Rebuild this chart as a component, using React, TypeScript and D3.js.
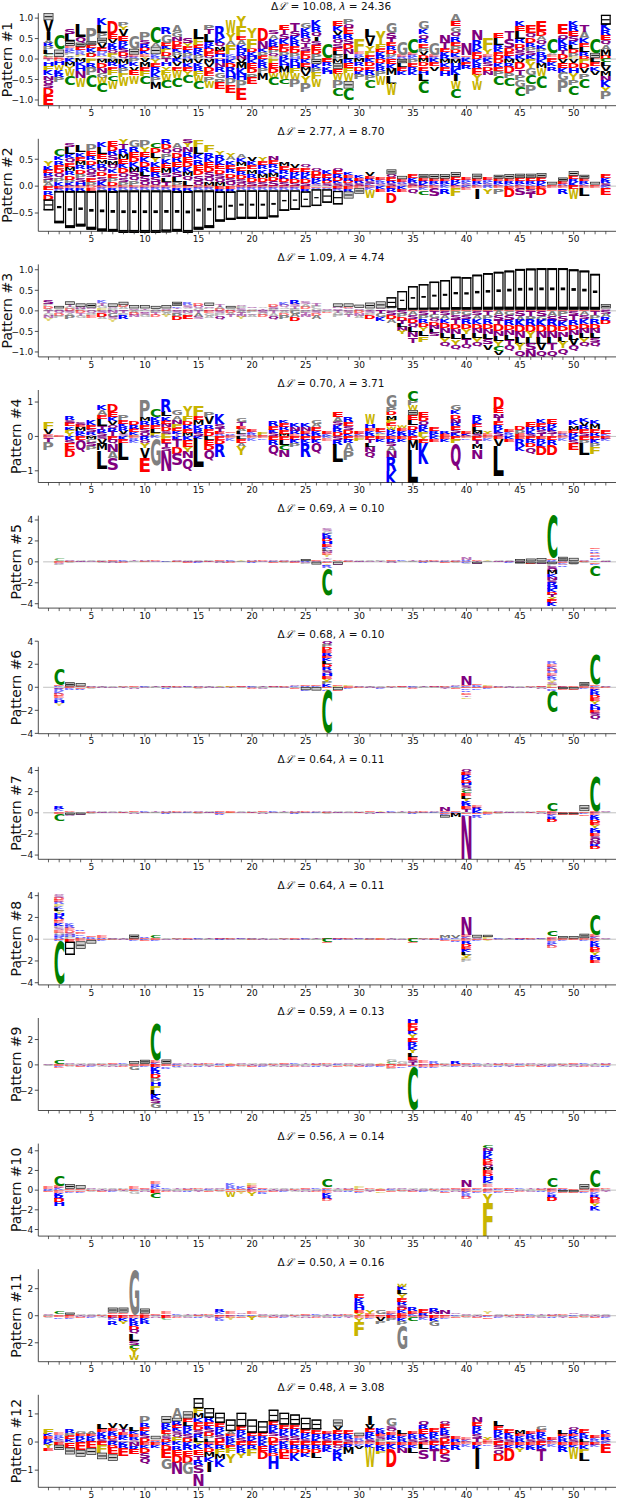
import React from "react";
import { scaleLinear, range } from "d3";

// positions along the sequence (1..53)
const positions = range(1, 54);

const deltaL = ["10.08", "2.77", "1.09", "0.70", "0.69", "0.68", "0.64", "0.64", "0.59", "0.56", "0.50", "0.48"];
const lambdas = ["24.36", "8.70", "4.74", "3.71", "0.10", "0.10", "0.11", "0.11", "0.13", "0.14", "0.16", "3.08"];

const yDomains: [number, number][] = [
  [-1.14, 1.12], [-0.84, 0.88], [-1.12, 1.13], [-1.34, 1.35],
  [-4.42, 4.42], [-4.03, 4.0], [-4.4, 4.35], [-4.2, 4.3],
  [-3.6, 3.7], [-4.67, 4.73], [-3.4, 3.44], [-1.61, 1.68],
];
const yTicks: number[][] = [
  [-1, -0.5, 0, 0.5, 1], [-0.5, 0, 0.5], [-1, -0.5, 0, 0.5, 1], [-1, 0, 1],
  [-4, -2, 0, 2, 4], [-4, -2, 0, 2, 4], [-4, -2, 0, 2, 4], [-4, -2, 0, 2, 4],
  [-2, 0, 2], [-4, -2, 0, 2, 4], [-2, 0, 2], [-1, 0, 1],
];
const decimalTicks = [true, true, true, false, false, false, false, false, false, false, false, false];
const xTickLabels = [5, 10, 15, 20, 25, 30, 35, 40, 45, 50];

// each column: "top stack (listed top -> zero) | bottom stack (listed zero -> down)"
// letter + height in hundredths of a y unit, "-" is the gap symbol
const pattern1 = [
  "-17V28I20A7R9P9L10C6E6|T6H10F12K12N10Q12S10D16E24", "C36-18E5|D6H8W12K10R8P12", "S12L16-12E6R6K6P5V4A5|K8M8Y10W16C22",
  "L30Q14-10E8K6R6F6H4|M8K10H12N16W22", "P33-10E8K8V6D8F4|F10R12P18C28", "K16L20P12-12V12E8H6R6F4S4|M10D12N12G12W14C22",
  "D30E12V10K10R8Q8F8A6|M10R8E10F12C14W18", "P10Y8V16E12R10K10S8D8Q8|M12K10P12F10W22", "G32-14E5R6|P8K10V10E12W20",
  "P20S10R8D8K8E6Y6|V8M12E10F12C20", "C38A8-18K6R6|Y10E10R12K12P12M16", "R16G20E8K8F8D8P8|T8H10Y10F12W14C18",
  "A17G13N10D10E10K8P8V8|K8V10E10W18C22", "S12Y10E8K8P8R6|M10K10E10Y10C18", "L24F14E8R8K8P10|V10K10R10F12W14C18",
  "P12T12L18R10K8D8E8Q8|M10V10D12E10P14W14", "R28K12Q10M10E8H8D4|H10N10R12G14P14E14", "W31Y20A10F21K6H6|K10D12R14H12P16E18",
  "Y24F24E10A12K10H9R8N8|V10M14K14H14P20E28", "Y25F26D9K8H8|K10E12D12P14E14", "D32N20K8P8E8|K10R12P12M16",
  "S10A10K10R10E8P8Q8F6|F10E12D12W12C18", "E12T12S12K12E10D10P8R8|K10H10M14W14C14", "T20S12K12R12E10D8P8H6|R10H12F12W16P18",
  "G14K12R12Q12T10S10E10D10|K10E10M10V12Y16P22", "K16R12Q12I10S10E12D10P12|-12K10P12F14W20", "C35F3|E8R10K10H8",
  "E12K12V10R10Q12S8E8L10P10|M10-14E12W16P18C20", "P14Q12E14R12S12D12N12L12|R10E12F12W20-18C28", "F33E6R6K6|M8R10D10K10P12",
  "L18V22Y12F10E10|K8D10E10R12P12C18", "Y30F12E9K8R8|D10K10R10P12W22", "G25S12T10E10R10D8P8K5|E12K12M16L20W27",
  "G33E5R5|-10L10E8K10", "C36E5R5K5|P10E10R10K10", "G20K12Q12R10E10P10V8D10|M8D10E10H10L16C30",
  "G29E5R5|K8E10V10", "N20T15E8K8R8|M10K10E10H12", "A16E12G14Q12R12E10P10D8K8S6|M12H14K14I14W18C23",
  "N29E4R3K3|K8E8R8", "N25R20K10E9D8|K12R12E16Y14W21", "F28Y11E6R6|K8S10D10N10",
  "E12L16R10K9E8D8|D10K10E10P12C22", "T18S22D10E8K8|M10R10D14P12C20", "K12E12L18R12D10Q10S8K10|V10D14T14P14G16C22",
  "E20Q12D12R10P10S10K10|F10Y14G16C22P23", "E24D12A10Q12K10P8R8H8|K10M12W20C28", "C36A6E5R4|E8K10R10",
  "E24Q12K14R12T10D12|V10E12K12G18P28", "K12R12E12S12K10L10D10P8F6|V10D12H12Y16P14C24", "T17A16K12E10L12R10D7|F10D12V12P14C24",
  "C36-12E3|L8E10K10V10", "-24K14R12E12Q12A12M14D8|C8L10V12M12N12K14Y12P18",
];

const pattern2 = [
  "Y10K7E6R6S6P6A6|E8R8D9-20", "C13K8R8E8D8Q8P8K8|E5R4-60", "S6L12K8Q8E8M8R8D8P6K6|E4R5-69",
  "L12K8E8M8R8D8P8S8H7|E4R5-66", "P12E10R8D8K8Q8S8E8P8|D4E5-72", "K9L12E10M8R8Q8D8S8K10|E4R4-76",
  "E9D9R9S9M8Q8K8E8P8D8|E4R5-76", "Y10T9R9M9E9K9D9Q8S8P8|E4R4-79", "G12R9E9D9K9M9S9Q9P9|E4R4-79",
  "P12Y9E9K9D9R9L9S9Q9|E4R4-79", "C10D9L9Y9K9E9R9S9Q8|E4R4-79", "R10D9Q9P9K9E9M9S8L8T8|E4R4-78",
  "A10Q9D9R9E9K9S9L9P8|E4R5-76", "S7Y9N9R9E9D9K9M9Q9L9|E4R5-78", "F12L12K10R10E10D10S10Q10|E4R4-73",
  "F12R10K9E9D9S9Q9M8|E4R4-70", "Y8R9K9E9D8S8Q8M7|E5R5-56", "Y8A6K8E8R8D8S8Q8|E5R5-53",
  "A6K8M8E8R8D8S8Q5|E4R4-53", "V6K8E8M8R8D8S7|E4R4-53", "Y6E8R8K8M8D8S7|E4R4-53",
  "N7E8R8K8M8D8S9|E4R4-50", "M7E7R8K8D7S7|E4R4-38", "V6E7R7K7D7S6|E4R4-36",
  "Q6E7R7K7D7S6|E5R5-29", "Q5D6E6R6K5S4|E3R3-31", "K6E6R6D5S5|E3R3-25",
  "Q6E6R6D6K5S5|E5R4-25", "K5E5R5D5S5|E5R5-13", "K5E5R5S5|E4-10",
  "V6E5R5S5K4|E4K4W14", "E5K4R4S4|K5E5", "-9Q6E6R5S5|E5R6D20",
  "-6E5R4S4|K5E5", "E6K5R5S5|E4Q10", "-7E5R5K5|E4K4C8",
  "-8E5R5K4|E4S14", "-8E5R5K4|K4R10", "-9E6R6K5|E4F14",
  "E5R4K4S4|K4E4", "-9E5R5K4|E4I20", "E5R4K4S4|R4Y10",
  "-7E5R5K4|E4P10", "-8E5R5K4|E5D16", "-8E6R5K4|E4S12",
  "-8E6R5K4|E5S8T10", "-8E6R5K5|E5D12", "-5E3|E4",
  "-7E5R4|E4R10", "-9E6R5K8|E6W18", "-7E5R5K4|E4L14",
  "-5E3|E4", "E6K5R5S5|K4E12",
];

const pattern3 = [
  "S8P6D6A5|T6G6N6Y6", "-6A3S3|Q6D6P6", "-8T5G5D5|S6A6P8", "-8N5P5|D6T6G6", "-10S4A4|Q6P6E6",
  "K6T6G6F6|S6D8A6", "-8Q5P5|N6G8S6Y6", "-8D5A5S4|T6P6R8", "-8S3G3|A5D5N5", "-8T3P3|Q5S5G5",
  "-7A3N2|P5T5D5", "-8S3D3|G5A5Y5", "-10K4T4Q4|S6P8D8", "R6S6A4P4|N6G6E8", "D6Q6G6|T6A8S6",
  "-8S4P4N4|E6G6A6", "T5A5D5|S6P6Q8", "-6G3S3|D5A5T5", "Q5P5S5|A5T5N5Y6", "S4G3D3|P5Q5A5",
  "A4T3N3|S5G5D5", "D5S5P5|T6A6Q8", "K6Q6G4S4|A6D6P8", "R8S6T6P5|G8A8D9", "S6A6D6Q4|P5T5N5",
  "T6P6G6|S6D6A8", "S3A2|P3D2", "-8N4S3A3|T5G5P5", "-8D4Q3P3|S5A5T5", "-8S4G3|D6N6A6",
  "-14A3T3|S6P6D8", "-17Q3S3|T8G8K9", "-25P4N4|S10D10A10", "-45E3|S8P8D8T8L8N8Y9", "-57E3|A10S10D10Q10L12N12T14",
  "-62E3|S10P10R10D10Y10L12F13", "-68E3|T9G9Q9D9N9L9S8", "-72E3|S10A10K10D12N12L11Y12Q10", "-80E3|P10S10T12D12N12L13Y13Q13", "-79E3|G10S10R12D12Y12L12T12Q12",
  "-85E3|S10A10K12D12N11L11Y11Q11", "-89E3|T10P10R12D12N12L13S13V13", "-92E3|A11S12T12D14N12L12Y12C12V10", "-95E3|G10S12R12D12N12L12T14Q14", "-99E3|S12A12K14D14N14L14Y16Q16",
  "-100E3|T12P12R14D14Y14L14S16N16", "-101E3|S12G12K14D14N14L14V16Q16", "-101E3|A12S12R14D14N14L14T16Q16", "-101E3|P12S12K13D13N13L13Y14Q17", "-98E3|S10T12R12D12N12L12V14Q14",
  "-95E3|A10S10K12D12N11L11Y11Q11", "-87E3|T10P10R12D12N11L11S11Q11", "-10S3A3|S8A8R8D8",
];

const pattern4 = [
  "F20V14E4K4|E6T10P24", "E4|E3", "R11S9E9K9F10Y10|K10S12E18D20", "S8E8M10R8K8|E10Q36", "K14E10S10R8T5|M8G10S10P12",
  "K14A14E10L22T10R10S10|S8V14M18L54", "D24E14K12V12Q10R10T13|E10Q12N22A20S35", "P14E10K10R10V10S7|K10E10L50", "D10R10E10K8F4|E6R6K6", "P48M12R11E12S10Q12|R10Q10Y14V30E40",
  "C25K12R12E10L12F10|K6G78", "R38L14K12E10N10D10S8F8|F10E10T12S12N56", "G15A12N12F12E10K8T7|K10T22D18S34", "Y30F14D12K12E12M10|K10E20Y14N20Q36", "F30E12M14K12R12S10|K8L82",
  "P14V22R12E12D11|L10E14D16Q30", "K30S12T10E8R6|E10D12R38", "E5R5K4|E6K6", "G10T10E8A8L8S7|L8E10A12Y25", "E8K6R6|E6K6",
  "F8E5|E6K4", "R14E10K10S10|E10R14Q31", "K8E10R10E10M8|E10L14C16N20", "K12N10R10E6|E10K10P12", "K10N10E8R8|E10K10R40",
  "G10A10E10K8R8|E10K10Q30", "E8K6|K6E6", "E15A14S10K10R10D12|S10R14L51", "R14E12S12D10K8|E10R10A22P28", "E8K6|E6F8",
  "W30H12E8K8R8|E10T10L10N14Q20", "E10K6F6|E8K8", "G34P14D10M12F10E10W10R10K9|E8R10S10A14N20R40K32", "W8E8K8R8|E8K8", "C30P14W14-14E14L16D12R10K10|E10M30L94",
  "E15D12Q12R10K10F12|Y10E10K60", "E10R8K8|K8E8", "R8E8|E8K8", "G14K12D12N12R10E10S10K10|E10F10Q79", "E8K8|E6K4",
  "R14K12E10L10M8S8|E10T12M16N27", "Y8E6|E6K6", "D34E14N12T10E12R11K12S10|E8V20L86", "E8K6R6|K8E8", "D12P10E8|E8R20K14",
  "E14R10K10S8|E10R10D12Q20", "K10E10R10S10T8|E8R12K10D25", "E14R10K10S10T7|E10R14D31", "E6R6|E6K6", "K14M12E10R10|K10S12E18",
  "K10V10R10E10S11|E10P12L33", "K10M14E12R11|E10K10P10F20", "E10K7|E8K6",
];

const pattern5 = [
  "S4|A4", "C22E8|D10S10P8", "S6P5|D6A5", "G6T5|N5E4", "A6Q4|S6K4", "P6D5|T6G5", "E8S6|A6N5", "K8G6|Q6D5",
  "T5A4|P5S4", "N6E5|G6R4", "D6P4|S5T4", "Q5K5|A6E4", "S6P5|D5A4", "G8T6|N6E5", "A8Q6|S6K5", "P6D5|T5G4",
  "E6S5|A6N5", "K8G6|Q6D5", "Y8A5|P6S4", "N6E5|G6R5", "D6P4|S5T4", "Q8K6|A6E5", "S8P6|D6A5", "G8T6|N6E6",
  "-18R8|S10P8", "E10S10|-25", "S20G20K25R25D25H25E25K20L20N20E20Y20T15A15Q15|E15Y15K10R18C262", "D10A8|-28S6",
  "S6P5|D6A4", "G6T5|N6E4", "A6Q5|S5K4", "P6D4|T5G4", "E8S6|A6N5", "K6G5|Q5D4", "T8A6|P6S4", "N6E5|G6R5",
  "D6P5|S6T4", "Q8K6|A6E5", "S8P6|D6A5", "N18R8S6|K10A8", "D10T8|-18S5", "Y8A5|P6S4", "G6T5|N5E4", "A8Q6|S6K5",
  "-22S5|-15A5", "-25P6|-18D5", "-28A6|-20S5", "C410E10R10K10|-20P20S25Q25M30K25N25S30R30H30K30D25T25Y25E30K30",
  "-40S8|E10K10S15R15", "-30P8|-20A8", "S8P6|D6A6", "E15K15R15D15S15E15H15K15Y14|E16K16C102", "G8T6|N6",
];

const pattern6 = [
  "S4|A4", "C140E12K10|E15R20K20D20E20R20H25Y20", "-35E8|E10K8R8", "-28E8|E12R10", "S6P5|D6A5", "G6T5|N5E4",
  "A8Q5|S6K4", "P6D5|T5G4", "E6S4|A6N5", "K8G5|Q6D4", "T6A5|P5S4", "N8E5|G6R5", "D6P5|S6T4", "Q6K5|A5E4",
  "S8P5|D6A5", "G6T5|N6E4", "Y8A5|S6K4", "F10D5|T5G4", "E6S5|A6N4", "K8G6|Q6D5", "T6A5|P6S5", "N8E5|G6R4",
  "D6P5|S5T4", "Q8K6|A6E5", "E10R8|-25K6", "E10K8|-28",
  "Q25P25D25E25R25E25K25L25D25R25S25H25E25Y25P25K25|E10Y10K10C370", "E10F15|-25E8", "F15E8|E8K6", "S6P5|D6A4",
  "G6T5|N5E4", "A8Q5|S6K5", "P6D5|T6G4", "E6S5|A5N4", "K8G5|Q6D5", "T6A5|P5S4", "N6E5|G6R4", "D8P6|S6T5",
  "Q8K6|A6E5", "N80E10K10|E10K15R15D15E15T15F15", "E15K10R10|E10K10", "F15E10|E10K8", "S6P5|D6A4", "G6T5|N5E4",
  "A6Q5|S5K4", "P6D5|T6G4", "E8S5|A6N5", "R20E20K20D20H20E20K20R20Y20S20F20|E10K10R10C190", "E8K6|-15E6",
  "E8|-18E6", "-35E10|E10K8", "C255E12K13|E20K25R25D25E25Y25K25H25E25S25Q35", "S8P6|D8",
];

const pattern7 = [
  "S4|A4", "R25K20E15|E16C62", "D10A8|-20S8", "P8|-18S6", "S6P5|D6A5", "G6T5|N5E4", "A8Q5|S6K4", "P6D5|T5G4",
  "E6S4|A6N5", "K8G5|Q6D4", "T6A5|P5S4", "N8E5|G6R5", "D6P5|S6T4", "Q6K5|A5E4", "S6P5|D6A5", "G6T5|N5E4",
  "E15K12|E10R10", "E8Y10|E6", "A8Q5|S6K4", "P6D5|T5G4", "E6S4|A6N5", "K8G5|Q6D4", "T6A5|P5S4", "N8E5|G6R5",
  "D6P5|S6T4", "Q6K5|A5E4", "S6P5|D6A5", "G6T5|N5E4", "A8Q5|S6K4", "P6D5|T5G4", "E6S4|A6N5", "Y10E5|K5E4",
  "K8G5|Q6D4", "T6A5|P5S4", "N8E5|G6R5", "D6P5|S6T4", "Q6K5|A5E4", "N40E10K8|E10K10-25", "E15K10|E8M35",
  "Q25E25R25K25D25H25S25G25C25E25L25Y25K25R25E25T25P10|E15K15N410", "E20R25K25|E15K15R20", "F15E10|E10K8",
  "S6P5|D6A5", "G6T5|N5E4", "A8Q5|S6K4", "P6D5|T5G4", "E6S4|A6N5", "C70E10K10|E20K20R25D25", "E10|-15E5",
  "E10|-15E5", "-56E16|K15E15", "C334E8K8|E20K25R25D25E25Y25K25H25E25S25Q25N25R25D24", "S6P4|A5",
];

const pattern8 = [
  "S4|A4", "Q20S20D20E20R20F20K20L25Y20H25R25D20E20K25P20S20E20G20H20R20|E10K10C400", "K20R20E20D20S20H20P20|E24-121",
  "R15E15D15K15H15P15|E20-70", "E10K10R10|E10-30", "E20R10|E10K8", "S6P5|D6A5", "G6T5|N5E4", "-36E6|E8K6",
  "R15E10|K10E8", "C25E8|E8K8", "A8Q5|S6K4", "P6D5|T5G4", "E6S4|A6N5", "K8G5|Q6D4", "T6A5|P5S4", "N8E5|G6R5",
  "D6P5|S6T4", "Q6K5|A5E4", "S6P5|D6A5", "G6T5|N5E4", "A8Q5|S6K4", "P6D5|T5G4", "E6S4|A6N5", "K8G5|Q6D4",
  "T6A5|P5S4", "E8K6|C30E8", "N8E5|G6R5", "D6P5|S6T4", "Q6K5|A5E4", "S6P5|D6A5", "Y8E5|E5R4", "G6T5|N5E4",
  "A8Q5|S6K4", "E8|C30E8", "P6D5|T5G4", "E6S4|A6N5", "M20K10|K10E10", "V20K10|E15R10",
  "N167E18K18|E20R25D25E25K25L25Y25F20P20", "-25S15|E10K10", "-20F20|E10Y10", "K8G5|Q6D4", "T6A5|P5S4",
  "N8E5|G6R5", "D6P5|S6T4", "Q6K5|A5E4", "C50E15K15|E20R20K20D20", "-20E8|E10K8", "-22E6|E10", "-40E10|D10K10",
  "C182E18K18|E20K25R25D25E25Y25K25H25E25", "S6P4|A5",
];

const pattern9 = [
  "S6|A6", "C30E8|E10K10D8", "S10P8|D10A8", "G10T8|N8E8", "A12Q8|S10K8", "P10D8|T8G8", "E10S8|A10N8", "K12G8|Q10D8",
  "-20E10|E8G30", "-32E8|E10K10", "C296E17K17|E20K25R30D30P30H30F30L40K35S30G40", "-32E10|E10K12R10",
  "S10K8|D10R10A8", "T10A8|P8S8", "N12E8|G10R8", "D10P8|S10T8", "Q10K8|A8E8", "Y10E6|E8K6", "S10P8|D10A8",
  "G10T8|N8E8", "A12Q8|S10K8", "P10D8|T8G8", "E10S8|A10N8", "K12G8|Q10D8", "T10A8|P8S8", "N12E8|G10R8", "D10P8|S10T8",
  "Q10K8|A8E8", "S10P8|D10A8", "G10T8|N8E8", "A12Q8|S10K8", "Y12E8|E10K8", "G15C15E10|D15E10P10", "G18E10|E12K10",
  "H30E30D30K30Y30E30R30K30Y30L30E20S20T20|E10K10C340", "E15K12|E15R10", "R15E10|E15K12", "P10D8|T8G8",
  "R20E10|E10K10", "E10S8|A10N8", "K12G8|Q10D8", "T10A8|P8S8", "N12E8|G10R8", "D10P8|S10T8", "Q10K8|A8E8",
  "S10P8|D10A8", "G10T8|N8E8", "A12Q8|S10K8", "P10D8|T8G8", "E10S8|A10N8", "K12G8|Q10D8", "T10A8|P8S8", "N12E8|G10R8",
];

const pattern10 = [
  "E20R10|K10E10", "C110E20K20|E25K30R35D35H35", "-45E15|E15K15", "-35E15|E15K12", "S10P8|D10A8", "G10T8|N8E8",
  "A12Q8|S10K8", "P10D8|T8G8", "E20K15|E10G25", "E10S8|A10N8", "E20R25K20D15|E30C50", "K12G8|Q10D8",
  "T10A8|P8S8", "N12E8|G10R8", "D10P8|S10T8", "Q10K8|A8E8", "S10P8|D10A8", "K25R25E15|E15W50", "K20E15|E15Y20",
  "F25E25K20|E20Y40", "E15R10|E15K10R10", "G10T8|N8E8", "A12Q8|S10K8", "P10D8|T8G8", "E10S8|A10N8",
  "K12G8|Q10D8", "C80E15K15|E25K30R30D25", "T10A8|P8S8", "N12E8|G10R8", "F20E10|E15K10", "D10P8|S10T8",
  "Y15E10|E12F15", "Q10K8|A8E8", "S10P8|D10A8", "G10T8|N8E8", "A12Q8|S10K8", "P10D8|T8G8", "Q15E10|K15E10",
  "E10S8|A10N8", "N70E15K15|E20K20R25D25", "E15K10|E15K15",
  "C30N30R40K40D30E30Q30M30E30D30H40K30P20E20Q20S10|E20K10Y110F327", "E15K10|E15K15", "E10K10|E10S15",
  "K12G8|Q10D8", "T10A8|P8S8", "N12E8|G10R8", "C90E15K15|E20K25R30D35", "E15R10|-15E10", "E15|-20E10",
  "-50E10|E15K10", "C174E18K15|E20K25R30D30E30Y30K35H10", "D10P8|S10T8",
];

const pattern11 = [
  "S10P8|D10A8", "C20E10|E12K10", "-15E8|E15K10", "G10T8|N8E8", "A12Q8|S10K8", "P10D8|T8G8",
  "-36E12K12|E20K15R30", "-36E12K12|E20K20Y20", "G325E5|E15K30R30D30Q30L50S30C30Y45W40", "-36E17|E20K20R20",
  "E10S8|A10N8", "E15R10|E20C15", "K12G8|Q10D8", "T10A8|P8S8", "N12E8|G10R8", "D10P8|S10T8",
  "R20K15E10|E15K15R10", "E15K10|E15Y15", "Q10K8|A8E8", "E15K10|E10Y25", "S10P8|D10A8", "G10T8|N8E8",
  "A12Q8|S10K8", "P10D8|T8G8", "E10S8|A10N8", "K12G8|Q10D8", "T10A8|P8S8", "N12E8|G10R8", "D10P8|S10T8",
  "E30K30R30H30E20Y20|E15Y30F105", "Y25E15|E15K10", "G30E10|E15V25P20", "E15K15|E20P20",
  "W25K25L30Y30E25R25S20D20K20E20|E20K20P28G182", "R30E20K15|E10C30", "E25R20|E15K15", "R25N20E10|E20K20G40",
  "N25E10|E15K10", "Q10K8|A8E8", "S10P8|D10A8", "G10T8|N8E8", "Y15E10|K12E10", "A12Q8|S10K8",
  "P10D8|T8G8", "E10S8|A10N8", "K12G8|Q10D8", "T10A8|P8S8", "N12E8|G10R8", "D10P8|S10T8",
  "Q10K8|A8E8", "S10P8|D10A8", "G10T8|N8E8", "A12Q8|S10K8",
];

const pattern12 = [
  "F16K9E10R10|K10Y12E10", "E8R8K8S8|E10-18", "R12P10E12K11|E20-24", "G10E10R10K10|E28-24", "A10E10K10R10|E22-24",
  "L17E10K12R12S11|E12F26-23", "V18E10K10R10D10S10|R12D10E22-23", "V16T10E10R10K10S6|K10R12E26", "L14K10E10R10S8|N14R14E16",
  "P24R14E14K14S12D14|E10K10D20S18Q21", "-12E5R5|E10K10", "-24R14K12E12A10S10D10|K10D18E30G38",
  "A35-12R12E12K12S10Q10F18|K12R15E20D26N41", "-25E14L14R14K14S14D14|K14R16E20D23G41",
  "-36F18M18K14E14D14S14R14L14|Y10K16E20T20R16S30N43", "-35R16E12K12S12D12P12L10|E10K12D14M16K18I38",
  "-36E14R14K14S14D12|E12R14F16M20K28", "-41A9E10K10R10|K10E14F16Y33", "-48E14R14K14S14|E12K14R14Y18",
  "-47E12R10K11|E12R14F24", "-41E12R10K11|K14E18D29", "-41E14R14K14S12D20|E12K14R12D10H48",
  "-42E14R14K14S12D8|K12R14D12E22", "-36E14R14K14S12D8|E12R14D14K27", "-41E12R12K10S11|E12R12D14K14",
  "-35E15R15K15|E12R14D12L18", "E10R10K10S10|E12R12K12", "-24V14E12R12K10S8|E12Q12K18R25", "E14K10R10S10|E10R12M22",
  "-12E8R8K5|E8K8V10", "I30V16E12R12K12S10|E8K12W70", "K10R10E10S10P10|E10K10R12F10", "G30S10Q10E10R10K10P6|E10K16D64",
  "L12E10K10R10|E10K10N18", "E10K10R10S10|E10K10L20", "Q14R14E16K16S14|E10L16S34", "E14R12K12S10|E12K14T41",
  "Q12E12K12R12S12D14|E14K12D18S29", "E10R10|E10R20", "E8K8|E8K8", "N16E14R14K14S14T14|E10K14I72", "Y10E8|E8K6",
  "L18E14R14K14S14|E12S14Q18D23", "E14K12R10S10|E10K10D48", "M14E10K10R10|E10K10Y14", "E10K10R10S10|E10K10R10",
  "G12E10R12K12S10|E12K12T43", "E10K8|E8K8", "L12E10K10R10|E10K10R16", "Q10R12E10K10S10|E10K10W41",
  "E12K12R10L10|E10K14F14L29", "E10K8R8|E10K8", "K12E10R10S8|K8E30",
];

const patterns = [pattern1, pattern2, pattern3, pattern4, pattern5, pattern6, pattern7, pattern8, pattern9, pattern10, pattern11, pattern12];

const AA_COLORS: Record<string, string> = {
  C: "#008000",
  K: "#0000ff", R: "#0000ff", H: "#0000ff",
  D: "#ff0000", E: "#ff0000",
  N: "#800080", Q: "#800080", S: "#800080", T: "#800080",
  G: "#808080", P: "#808080", A: "#808080",
  L: "#000000", V: "#000000", I: "#000000", M: "#000000",
  F: "#c8b400", W: "#c8b400", Y: "#c8b400",
};

const FONT = "DejaVu Sans";

type Ink = { l: number; r: number; t: number; b: number };
let inkCache: Record<string, Ink> | null = null;
function inkMetrics(): Record<string, Ink> {
  if (inkCache) return inkCache;
  const ctx = document.createElement("canvas").getContext("2d")!;
  ctx.font = `bold 100px "${FONT}"`;
  const out: Record<string, Ink> = {};
  Object.keys(AA_COLORS).forEach((ch) => {
    const t = ctx.measureText(ch);
    out[ch] = {
      l: -t.actualBoundingBoxLeft,
      r: t.actualBoundingBoxRight,
      t: -t.actualBoundingBoxAscent,
      b: t.actualBoundingBoxDescent,
    };
  });
  inkCache = out;
  return out;
}

function parseSide(side: string) {
  const re = /([A-Z-])(\d+)/g;
  const out: { ch: string; h: number }[] = [];
  let m: RegExpExecArray | null;
  while ((m = re.exec(side || ""))) out.push({ ch: m[1], h: +m[2] / 100 });
  return out;
}

const X0 = 38.3;
const X1 = 616;
const x = scaleLinear().domain([0.05, 53.95]).range([X0, X1]);

function gapBox(xl: number, w: number, yt: number, h: number, key: string) {
  const yb = yt + h;
  if (h < 9) {
    return (
      <g key={key}>
        <rect x={xl + 0.35} y={yt + 0.35} width={w - 0.7} height={Math.max(0.1, h - 0.7)}
          fill="#cfcfcf" stroke="#222" strokeWidth={0.7} />
        {h > 3.5 && <rect x={xl + 1} y={yt + h / 2 - 0.5} width={w - 2} height={1} fill="#111" />}
      </g>
    );
  }
  const tb = Math.max(1, Math.min(2, h * 0.05));
  const bb = Math.max(1.4, Math.min(3, h * 0.08));
  const dh = Math.max(1.2, Math.min(2.8, h * 0.07));
  const dw = h < 14 ? w - 2 : w * 0.45;
  return (
    <g key={key}>
      <rect x={xl + 0.6} y={yt + 0.6} width={w - 1.2} height={h - 1.2} fill="#fff" stroke="#000" strokeWidth={1.2} />
      <rect x={xl} y={yt} width={w} height={tb} fill="#000" />
      <rect x={xl} y={yb - bb} width={w} height={bb} fill="#000" />
      <rect x={xl + (w - dw) / 2} y={yt + h / 2 - dh / 2} width={dw} height={dh} fill="#000" />
    </g>
  );
}

function glyph(ch: string, xl: number, xr: number, yt: number, yb: number, ink: Record<string, Ink>, key: string) {
  const w = xr - xl;
  const h = yb - yt;
  if (h <= 0.05) return null;
  if (ch === "-") return gapBox(xl, w, yt, h, key);
  const m = ink[ch];
  const e = ink.E;
  const iw = m.r - m.l;
  const ih = m.b - m.t;
  const sx = Math.min(w / iw, w / (e.r - e.l));
  const sy = h / ih;
  const gx = xl + (w - iw * sx) / 2;
  return (
    <text key={key} fontSize={100} fontWeight="bold" fontFamily={FONT} fill={AA_COLORS[ch]}
      opacity={h < 2.5 ? 0.55 : 1}
      transform={`translate(${gx},${yt}) scale(${sx},${sy}) translate(${-m.l},${-m.t})`}>
      {ch}
    </text>
  );
}

function fmtTick(v: number, dec: boolean) {
  const s = dec ? Math.abs(v).toFixed(1) : String(Math.abs(v));
  return v < 0 ? "\u2212" + s : s;
}

function Panel({ k, ink }: { k: number; ink: Record<string, Ink> }) {
  const bottom = 105.7 + 125.6 * k;
  const top = bottom - 92.5;
  const y = scaleLinear().domain(yDomains[k]).range([bottom, top]);
  const marks: React.ReactNode[] = [];
  patterns[k].forEach((col, i) => {
    const p = positions[i];
    const [up, down] = col.split("|");
    const xl = x(p - 0.46);
    const xr = x(p + 0.46);
    let cum = 0;
    parseSide(up).reverse().forEach((g, j) => {
      const y0 = y(cum);
      const y1 = y(cum + g.h);
      cum += g.h;
      marks.push(glyph(g.ch, xl, xr, y1, y0, ink, `u${i}-${j}`));
    });
    cum = 0;
    parseSide(down).forEach((g, j) => {
      const y0 = y(-cum);
      const y1 = y(-(cum + g.h));
      cum += g.h;
      marks.push(glyph(g.ch, xl, xr, y0, y1, ink, `d${i}-${j}`));
    });
  });
  const dec = decimalTicks[k];
  const labX = dec ? 11.7 : 20.7;
  return (
    <g>
      <line x1={x(0.5)} x2={X1} y1={y(0)} y2={y(0)} stroke="gray" strokeWidth={0.5} />
      {marks}
      <line x1={X0} x2={X0} y1={top} y2={bottom} stroke="#222" strokeWidth={0.8} />
      <line x1={X0} x2={X1} y1={bottom} y2={bottom} stroke="#222" strokeWidth={0.8} />
      {yTicks[k].map((t) => (
        <g key={t}>
          <line x1={X0 - 3.5} x2={X0} y1={y(t)} y2={y(t)} stroke="#222" strokeWidth={0.8} />
          <text x={X0 - 5} y={y(t) + 3.3} fontSize={9} textAnchor="end" fill="#111">{fmtTick(t, dec)}</text>
        </g>
      ))}
      {positions.map((p) => (
        <line key={p} x1={x(p)} x2={x(p)} y1={bottom} y2={bottom + 3} stroke="#222" strokeWidth={0.7} />
      ))}
      {xTickLabels.map((p) => (
        <text key={p} x={x(p)} y={bottom + 10.7} fontSize={9} textAnchor="middle" fill="#111">{p}</text>
      ))}
      <text transform={`translate(${labX},${(top + bottom) / 2}) rotate(-90)`} fontSize={14} textAnchor="middle" fill="#111">
        {`Pattern #${k + 1}`}
      </text>
      <text x={331} y={top - 3.5} fontSize={10.5} textAnchor="middle" fill="#111">
        <tspan>{"\u0394"}</tspan>
        <tspan fontFamily="DejaVu Serif" fontStyle="italic">{"\u2112"}</tspan>
        <tspan>{` = ${deltaL[k]}, `}</tspan>
        <tspan fontStyle="italic">{"\u03bb"}</tspan>
        <tspan>{` = ${lambdas[k]}`}</tspan>
      </text>
    </g>
  );
}

export default function App() {
  const ink = inkMetrics();
  return (
    <svg width={617} height={1499} viewBox="0 0 617 1499"
      style={{ position: "absolute", left: 0, top: 0, background: "#fff" }} fontFamily={FONT}>
      <rect width={617} height={1499} fill="#fff" />
      {patterns.map((_, k) => (
        <Panel key={k} k={k} ink={ink} />
      ))}
    </svg>
  );
}
